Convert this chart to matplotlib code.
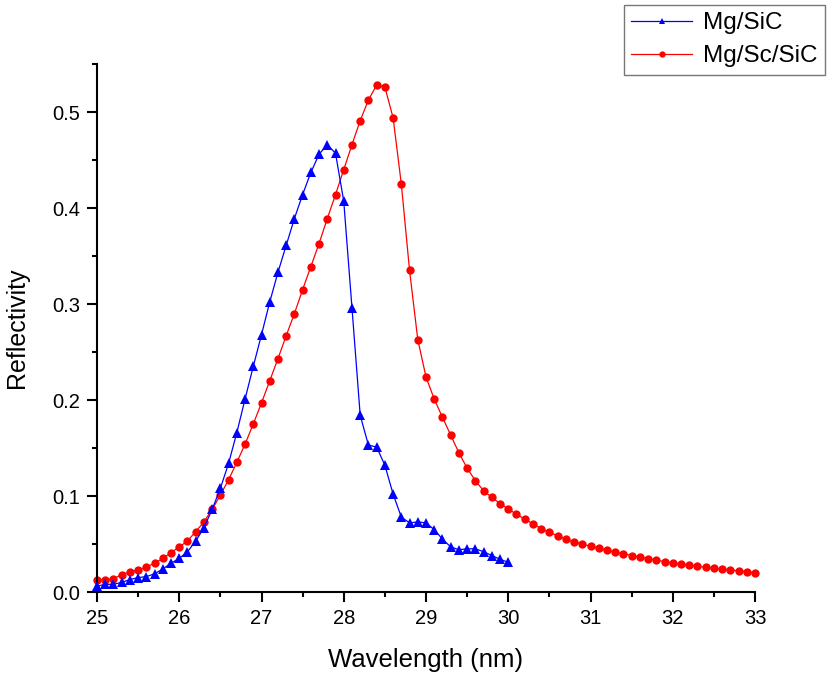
import numpy as np
import matplotlib
matplotlib.use("Agg")
import matplotlib.pyplot as plt
from matplotlib.ticker import MultipleLocator

plt.rcParams['font.family'] = ['Liberation Sans', 'DejaVu Sans']

# Mg/SiC: 25.0 .. 30.0 nm, step 0.1
wl_mgsic = [round(25.0 + 0.1 * i, 1) for i in range(51)]
r_mgsic = [0.006, 0.008, 0.008, 0.010, 0.013, 0.015, 0.016, 0.019, 0.024, 0.030,
           0.035, 0.042, 0.053, 0.067, 0.086, 0.108, 0.134, 0.166, 0.201, 0.235,
           0.268, 0.302, 0.333, 0.361, 0.389, 0.414, 0.437, 0.456, 0.466, 0.457,
           0.407, 0.296, 0.184, 0.153, 0.151, 0.132, 0.102, 0.078, 0.072, 0.073,
           0.072, 0.065, 0.055, 0.047, 0.044, 0.045, 0.045, 0.042, 0.038, 0.034,
           0.031]

# Mg/Sc/SiC: 25.0 .. 33.0 nm, step 0.1
wl_mgscsic = [round(25.0 + 0.1 * i, 1) for i in range(81)]
r_mgscsic = [0.013, 0.0125, 0.014, 0.018, 0.021, 0.023, 0.026, 0.030, 0.035, 0.041,
             0.047, 0.053, 0.063, 0.073, 0.086, 0.101, 0.117, 0.135, 0.154, 0.175,
             0.197, 0.220, 0.243, 0.267, 0.290, 0.315, 0.339, 0.363, 0.389, 0.414,
             0.440, 0.466, 0.491, 0.5125, 0.528, 0.526, 0.494, 0.425, 0.335, 0.263,
             0.224, 0.201, 0.182, 0.1635, 0.145, 0.129, 0.116, 0.1055, 0.0986, 0.092,
             0.0865, 0.081, 0.076, 0.071, 0.066, 0.062, 0.0587, 0.055, 0.052, 0.050,
             0.0476, 0.0455, 0.0434, 0.0417, 0.040, 0.038, 0.0365, 0.0347, 0.0333, 0.0316,
             0.030, 0.029, 0.028, 0.0267, 0.0257, 0.0247, 0.024, 0.023, 0.022, 0.021,
             0.020]

series_labels = ["Mg/SiC", "Mg/Sc/SiC"]
x_label = "Wavelength (nm)"
y_label = "Reflectivity"

fig = plt.figure(figsize=(8.3, 6.78), dpi=100)
ax = fig.add_axes([97 / 830, 1 - 592 / 678, (755 - 97) / 830, (592 - 64) / 678])

l1, = ax.plot(wl_mgsic, r_mgsic, color='#0000ff', lw=0.9, marker='^', ms=6.5,
              markeredgewidth=0, label=series_labels[0], clip_on=False, zorder=3)
l2, = ax.plot(wl_mgscsic, r_mgscsic, color='#ff0000', lw=0.9, marker='o', ms=6,
              markeredgewidth=0, label=series_labels[1], clip_on=False, zorder=2)

ax.set_xlim(25, 33)
ax.set_ylim(0, 0.55)
ax.xaxis.set_major_locator(MultipleLocator(1))
ax.xaxis.set_minor_locator(MultipleLocator(0.5))
ax.yaxis.set_major_locator(MultipleLocator(0.1))
ax.yaxis.set_minor_locator(MultipleLocator(0.05))
ax.set_yticks([0, 0.1, 0.2, 0.3, 0.4, 0.5])
ax.set_yticklabels(["0.0", "0.1", "0.2", "0.3", "0.4", "0.5"])

for s in ['top', 'right']:
    ax.spines[s].set_visible(False)
for s in ['left', 'bottom']:
    ax.spines[s].set_linewidth(1.5)

ax.tick_params(axis='both', which='major', direction='out', length=7, width=1.5,
               labelsize=14.5, pad=5)
ax.tick_params(axis='both', which='minor', direction='out', length=3.6, width=1.5)

ax.set_xlabel(x_label, fontsize=18.5, labelpad=15)
ax.set_ylabel(y_label, fontsize=18, labelpad=17)

leg = fig.legend(handles=[l1, l2], loc='upper left', bbox_to_anchor=(624 / 830, 1 - 5 / 678),
                 fontsize=17.5, frameon=True, fancybox=False, edgecolor='#555555',
                 handlelength=2.5, handletextpad=0.45, borderpad=0.3, labelspacing=0.45,
                 markerscale=0.75, borderaxespad=0)
leg.get_frame().set_linewidth(1.0)

fig.savefig("out.png", dpi=100)
